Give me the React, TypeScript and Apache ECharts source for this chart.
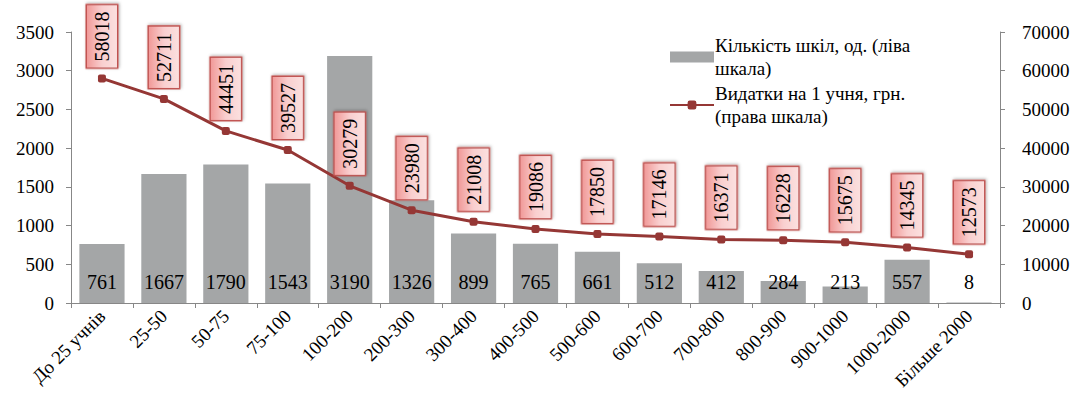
import React, { useEffect, useRef } from "react";
import * as echarts from "echarts";

const categories = ["До 25 учнів", "25-50", "50-75", "75-100", "100-200", "200-300", "300-400", "400-500", "500-600", "600-700", "700-800", "800-900", "900-1000", "1000-2000", "Більше 2000"];
const schools = [761, 1667, 1790, 1543, 3190, 1326, 899, 765, 661, 512, 412, 284, 213, 557, 8];
const spending = [58018, 52711, 44451, 39527, 30279, 23980, 21008, 19086, 17850, 17146, 16371, 16228, 15675, 14345, 12573];
const leftTicks = { min: 0, max: 3500, interval: 500 };
const rightTicks = { min: 0, max: 70000, interval: 10000 };
const seriesNames = ["Кількість шкіл, од. (ліва\nшкала)", "Видатки на 1 учня, грн.\n(права шкала)"];

const FONT = "Liberation Serif";

export default function App() {
  const ref = useRef<HTMLDivElement>(null);
  useEffect(() => {
    document.body.style.margin = "0";
    const chart = echarts.init(ref.current!, null, { renderer: "svg" });
    const axisLine = { show: true, lineStyle: { color: "#878787", width: 1 } };
    const tick = { show: true, length: 5, lineStyle: { color: "#878787" } };
    chart.setOption({
      animation: false,
      textStyle: { fontFamily: FONT },
      grid: { left: 71, right: 74, top: 32, bottom: 104 },
      legend: {
        orient: "vertical",
        left: 664,
        top: 29,
        itemGap: 2,
        itemWidth: 44,
        itemHeight: 11,
        textStyle: { fontFamily: FONT, fontSize: 19, color: "#000", lineHeight: 23, padding: [0, 0, 0, -4] },
        data: [
          { name: seriesNames[0], icon: "rect" },
          { name: seriesNames[1] },
        ],
      },
      xAxis: {
        type: "category",
        data: categories,
        axisLine,
        axisTick: tick,
        axisLabel: { rotate: 45, fontFamily: FONT, fontSize: 19, color: "#000", margin: 10, interval: 0 },
      },
      yAxis: [
        {
          type: "value",
          ...leftTicks,
          axisLine,
          axisTick: tick,
          splitLine: { show: false },
          axisLabel: { fontFamily: FONT, fontSize: 19, color: "#000", margin: 17, formatter: (v: number) => String(v) },
        },
        {
          type: "value",
          ...rightTicks,
          position: "right",
          axisLine,
          axisTick: tick,
          splitLine: { show: false },
          axisLabel: { fontFamily: FONT, fontSize: 19, color: "#000", margin: 22, formatter: (v: number) => String(v) },
        },
      ],
      series: [
        {
          name: seriesNames[0],
          type: "bar",
          data: schools,
          yAxisIndex: 0,
          barCategoryGap: "27%",
          itemStyle: { color: "#a4a6a7" },
          label: {
            show: true,
            position: "insideBottom",
            distance: 11,
            fontFamily: FONT,
            fontSize: 20,
            color: "#000",
          },
        },
        {
          name: seriesNames[1],
          type: "line",
          data: spending,
          yAxisIndex: 1,
          symbol: "roundRect",
          symbolSize: 8,
          lineStyle: { color: "#953735", width: 3 },
          itemStyle: { color: "#953735" },
          label: {
            show: true,
            position: "top",
            distance: 7,
            rotate: 90,
            align: "left",
            verticalAlign: "middle",
            fontFamily: FONT,
            fontSize: 20,
            color: "#000",
            padding: [6, 6, 4, 6],
            borderColor: "#c0504d",
            borderWidth: 1.5,
            backgroundColor: {
              type: "linear",
              x: 0, y: 0, x2: 0, y2: 1,
              colorStops: [
                { offset: 0, color: "#f19a99" },
                { offset: 0.5, color: "#f9cfcf" },
                { offset: 1, color: "#fbe0df" },
              ],
            },
            shadowColor: "rgba(0,0,0,0.3)",
            shadowBlur: 3,
            shadowOffsetX: 1,
            shadowOffsetY: 1,
          },
        },
      ],
    });
    return () => chart.dispose();
  }, []);
  return <div ref={ref} style={{ width: 1074, height: 407 }} />;
}
